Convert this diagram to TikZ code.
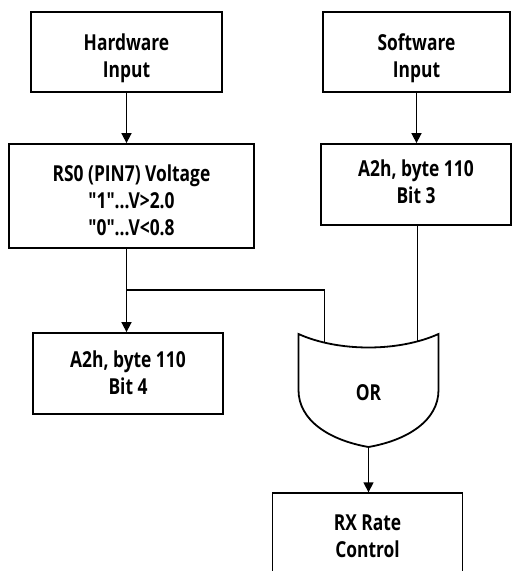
\documentclass[tikz,border=0pt]{standalone}
\usepackage{fontspec}
\newfontfamily\boxfont{Open Sans}[FakeStretch=0.79]
\usepackage{tikz}
\usetikzlibrary{arrows.meta, positioning, calc}

\newcommand{\dq}{\char34\relax}

\begin{document}
\begin{tikzpicture}[
    x=1pt, y=-1pt,
    >={Triangle[length=10pt, width=10pt]},
    line width=1.8pt,
    label font/.style={font=\fontsize{22}{27}\selectfont\boxfont\bfseries},
    block/.style={draw, rectangle, align=center, inner sep=0pt, label font,
        text height=42.7pt, text depth=0pt},
    tall block/.style={block, text height=69.7pt},
    wire/.style={line width=1.6pt}
]

% ==========================================
% 1. Custom OR gate (shield shape)
% ==========================================
\tikzset{
    orgate/.pic={
        % Outline
        \draw (-70, 0) .. controls (-30, 18) and (30, 18) .. (70, 0)
              -- (70, 56) .. controls (70, 86) and (40, 106) .. (0, 113)
              .. controls (-40, 106) and (-70, 86) .. (-70, 56) -- cycle;
        \node[label font, text height=15.7pt, text depth=0pt, inner sep=0pt] (-label) at (0, 58.5) {OR};
        % Input and output pins
        \coordinate (-in1) at (-44, 8);
        \coordinate (-in2) at (49, 8);
        \coordinate (-out) at (0, 113);
    }
}

\useasboundingbox (0, 0) rectangle (512, 571);
\clip (0, 0) rectangle (512, 571);

% ==========================================
% 2. Blocks
% ==========================================
\node[block, text height=50.7pt, minimum width=191pt, minimum height=80pt] (hwIn) at (126.5, 52) {Hardware\\Input};
\node[block, text height=50.7pt, minimum width=187pt, minimum height=80pt] (swIn) at (416.5, 52) {Software\\Input};

\node[tall block, text height=79.7pt, minimum width=245pt, minimum height=104pt] (rsVolt) at (131.5, 196)
    {RS0 (PIN7) Voltage\\\dq1\dq...V>2.0\\\dq0\dq...V<0.8};
\node[block, text depth=4pt, minimum width=190pt, minimum height=81pt] (bitThree) at (416, 184.5) {A2h, byte 110\\Bit 3};
\node[block, minimum width=190pt, minimum height=81pt] (bitFour) at (128, 373.5) {A2h, byte 110\\Bit 4};

\pic (gateOr) at (368.5, 334) {orgate};

\node[block, minimum width=190pt, minimum height=85pt] (rxRate) at (367.5, 535.7) {RX Rate\\Control};

% ==========================================
% 3. Connections
% ==========================================
\coordinate (hwDown) at (hwIn.south);
\coordinate (splitPt) at (hwDown |- 0, 290);

\draw[->, wire] (hwIn.south) -- (hwDown |- rsVolt.north);
\draw[->, wire] (swIn.south) -- (swIn.south |- bitThree.north);

\draw[wire] (hwDown |- rsVolt.south) -- (splitPt);
\draw[->, wire] (splitPt) -- (hwDown |- bitFour.north);
\draw[wire] (splitPt) -| (gateOr-in1);          % to gate input 1
\draw[wire] (bitThree.south -| gateOr-in2) -- (gateOr-in2); % to gate input 2

\draw[->, wire] (gateOr-out) -- (gateOr-out |- rxRate.north);

\end{tikzpicture}
\end{document}
